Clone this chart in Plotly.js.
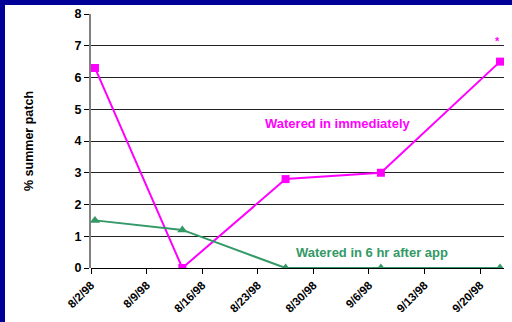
<!DOCTYPE html>
<html>
<head>
<meta charset="utf-8">
<script src="https://cdn.plot.ly/plotly-3.0.1.min.js"></script>
<style>
  html, body { margin: 0; padding: 0; background: #000099; width: 512px; height: 322px; overflow: hidden; }
  #chart { position: absolute; left: 5px; top: 5px; width: 507px; height: 317px; }
</style>
</head>
<body>
<div id="chart"></div>
<script>
// Sampling dates (points sit in the middle of their day, as on a day-based date axis)
const sampleDates = ['1998-08-02', '1998-08-13', '1998-08-26', '1998-09-07', '1998-09-22'];
const wateredImmediately = [6.3, 0, 2.8, 3.0, 6.5];
const watered6hr = [1.5, 1.2, 0, 0, 0];

const tickDates = ['1998-08-02', '1998-08-09', '1998-08-16', '1998-08-23', '1998-08-30', '1998-09-06', '1998-09-13', '1998-09-20'];
const tickLabels = ['8/2/98', '8/9/98', '8/16/98', '8/23/98', '8/30/98', '9/6/98', '9/13/98', '9/20/98'];

const xMid = sampleDates.map(d => d + ' 12:00');
const FONT = 'Liberation Sans, Arial, sans-serif';

const traces = [
  {
    x: xMid, y: wateredImmediately, type: 'scatter', mode: 'lines+markers',
    line: { color: '#FF00FF', width: 2 },
    marker: { symbol: 'square', size: 8, color: '#FF00FF' },
    name: 'Watered in immediately'
  },
  {
    x: xMid, y: watered6hr, type: 'scatter', mode: 'lines+markers',
    line: { color: '#339966', width: 2 },
    marker: { symbol: 'triangle-up', size: 9, color: '#339966' },
    name: 'Watered in 6 hr after app'
  }
];

const layout = {
  width: 507, height: 317,
  margin: { l: 86, r: 8, t: 9, b: 54 },
  paper_bgcolor: '#FFFFFF',
  plot_bgcolor: '#FFFFFF',
  showlegend: false,
  font: { family: FONT, color: '#000000' },
  xaxis: {
    type: 'date',
    range: ['1998-08-02', '1998-09-23'],
    tickmode: 'array', tickvals: tickDates, ticktext: tickLabels,
    tickangle: -45,
    tickfont: { family: FONT, size: 11.5, weight: 'bold', color: '#000' },
    ticks: 'outside', ticklen: 5, tickcolor: '#000', tickwidth: 1,
    showgrid: false, zeroline: false,
    showline: false,
    fixedrange: true
  },
  yaxis: {
    range: [0, 8], dtick: 1, tick0: 0,
    tickfont: { family: FONT, size: 12.5, weight: 'bold', color: '#000' },
    ticks: 'outside', ticklen: 5, tickcolor: '#000', tickwidth: 1,
    showgrid: true, gridcolor: '#222222', gridwidth: 1,
    zeroline: true, zerolinecolor: '#000000', zerolinewidth: 1,
    showline: true, linecolor: '#808080', linewidth: 2,
    title: { text: '% summer patch', font: { family: FONT, size: 12.5, weight: 'bold', color: '#000' }, standoff: 38 },
    fixedrange: true
  },
  annotations: [
    {
      xref: 'paper', yref: 'paper', x: 0.598, y: 0.567, xanchor: 'center', yanchor: 'middle',
      text: 'Watered in immediately', showarrow: false,
      font: { family: FONT, size: 13, weight: 'bold', color: '#FF00FF' }
    },
    {
      xref: 'paper', yref: 'paper', x: 0.68, y: 0.0625, xanchor: 'center', yanchor: 'middle',
      text: 'Watered in 6 hr after app', showarrow: false,
      font: { family: FONT, size: 13, weight: 'bold', color: '#339966' }
    },
    {
      xref: 'paper', yref: 'paper', x: 0.985, y: 0.894, xanchor: 'center', yanchor: 'middle',
      text: '*', showarrow: false,
      font: { family: FONT, size: 11, weight: 'bold', color: '#FF00FF' }
    }
  ]
};

Plotly.newPlot('chart', traces, layout, { displayModeBar: false, staticPlot: true });
</script>
</body>
</html>
